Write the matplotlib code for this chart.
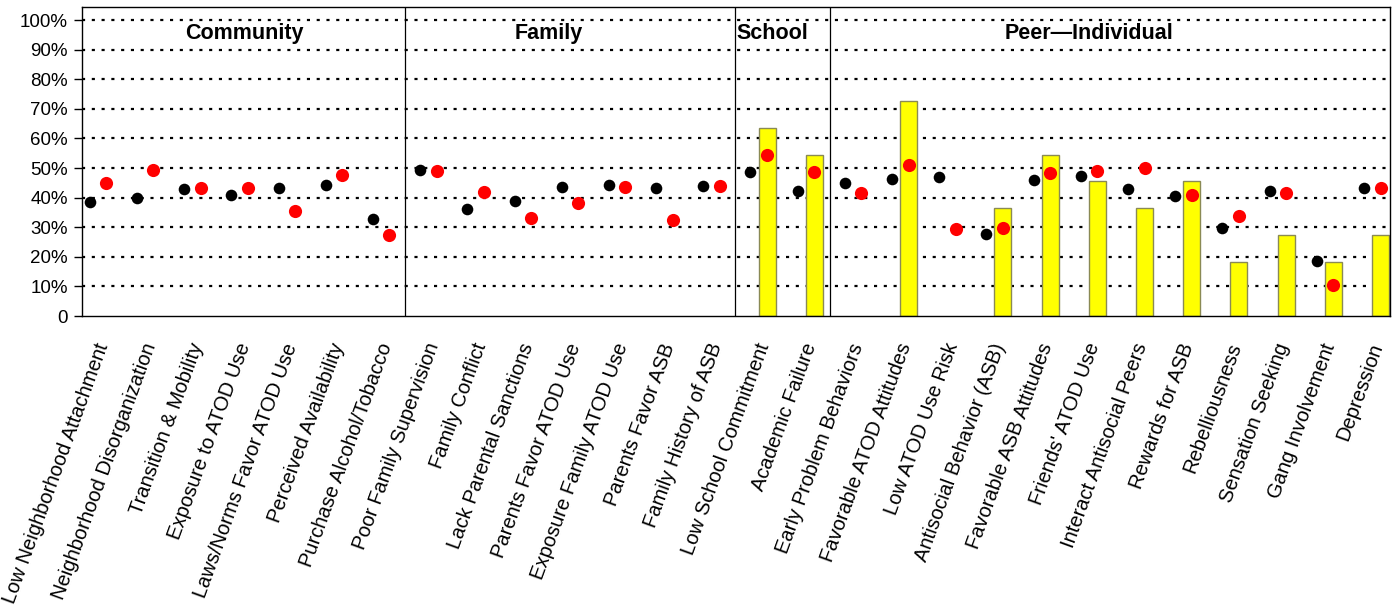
"""Risk factor profile chart: two survey years as dots, comparison as yellow bars."""
import numpy as np
import matplotlib
matplotlib.use("Agg")
import matplotlib.pyplot as plt
from matplotlib.transforms import ScaledTranslation

matplotlib.rcParams["font.family"] = ["Liberation Sans", "DejaVu Sans"]

# ---- data -------------------------------------------------------------
labels = [
    "Low Neighborhood Attachment", "Neighborhood Disorganization",
    "Transition & Mobility", "Exposure to ATOD Use",
    "Laws/Norms Favor ATOD Use", "Perceived Availability",
    "Purchase Alcohol/Tobacco",
    "Poor Family Supervision", "Family Conflict", "Lack Parental Sanctions",
    "Parents Favor ATOD Use", "Exposure Family ATOD Use",
    "Parents Favor ASB", "Family History of ASB",
    "Low School Commitment", "Academic Failure",
    "Early Problem Behaviors", "Favorable ATOD Attitudes",
    "Low ATOD Use Risk", "Antisocial Behavior (ASB)",
    "Favorable ASB Attitudes", "Friends' ATOD Use",
    "Interact Antisocial Peers", "Rewards for ASB", "Rebelliousness",
    "Sensation Seeking", "Gang Involvement", "Depression",
]
black_vals = [38.6, 40.0, 42.9, 40.8, 43.1, 44.3, 32.8,
              49.5, 36.3, 38.7, 43.6, 44.4, 43.2, 43.8,
              48.8, 42.2,
              44.9, 46.2, 46.8, 27.7, 45.9, 47.4, 43.0, 40.6, 29.8, 42.1, 18.5, 43.3]
red_vals = [45.0, 49.3, 43.1, 43.1, 35.4, 47.5, 27.4,
            49.1, 42.0, 33.1, 38.2, 43.7, 32.5, 43.9,
            54.4, 48.6,
            41.6, 50.9, 29.4, 29.7, 48.2, 49.0, 49.9, 40.9, 33.8, 41.4, 10.4, 43.2]
bar_vals = [None] * 14 + [63.6, 54.5,
                          None, 72.7, None, 36.4, 54.5, 45.5, 36.4, 45.5, 18.2, 27.3, 18.2, 27.3]

groups = ["Community", "Family", "School", "Peer\u2014Individual"]
group_sizes = [7, 7, 2, 12]
group_title_x = [3.1, 9.55, 14.28, 21.0]

# ---- plot -------------------------------------------------------------
x = np.arange(len(labels))
bars = np.array([np.nan if v is None else v for v in bar_vals], dtype=float)

fig = plt.figure(figsize=(13.95, 6.16), dpi=100)
ax = fig.add_axes([0.0586, 0.487, 0.9378, 0.5016])

for yv in range(10, 101, 10):
    ax.axhline(yv, color="black", lw=1.6, ls=(0, (1.4, 3.0)), zorder=1)

ax.bar(x + 0.17, bars, width=0.36, color="#ffff00", edgecolor="#8a8a55",
       linewidth=1.0, zorder=2)
ax.scatter(x - 0.18, black_vals, s=70, color="black", zorder=3, linewidths=0)
ax.scatter(x + 0.17, red_vals, s=90, color="#ff0000", zorder=4, linewidths=0)

# group separators and titles
edges = np.cumsum(group_sizes)[:-1] - 0.5
for e in edges:
    ax.axvline(e, color="black", lw=0.9, zorder=2)
for name, gx in zip(groups, group_title_x):
    ax.text(gx, 95.3, name, ha="center", va="center", fontsize=15.5,
            fontweight="bold", zorder=5)

ax.set_xlim(-0.35, 27.37)
ax.set_ylim(0, 104.4)
ax.set_yticks(range(0, 101, 10))
ax.set_yticklabels(["0"] + [f"{v}%" for v in range(10, 101, 10)], fontsize=13.5)
ax.tick_params(axis="y", length=6, width=1, pad=4)

ax.set_xticks(x)
ax.set_xticklabels(labels, rotation=70, ha="right", va="center",
                   rotation_mode="anchor", fontsize=14.5)
ax.tick_params(axis="x", length=0, pad=20)
shift = ScaledTranslation(5 / 100, 0, fig.dpi_scale_trans)
for lab in ax.get_xticklabels():
    lab.set_transform(lab.get_transform() + shift)

for sp in ax.spines.values():
    sp.set_color("black")
    sp.set_linewidth(1.0)

fig.savefig("out.png", dpi=100)
plt.close(fig)
